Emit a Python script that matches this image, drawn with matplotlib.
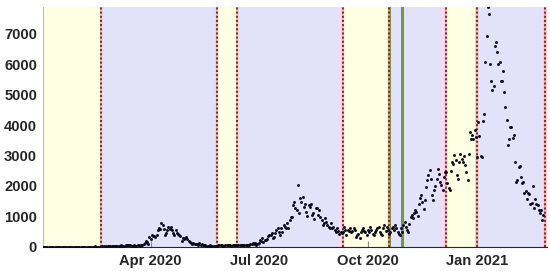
import matplotlib
matplotlib.use('Agg')
import matplotlib.pyplot as plt
import pandas as pd

# daily new cases, one value per day starting 2020-01-01
cases = [0, 0, 0, 0, 0, 0, 0,
         0, 0, 0, 0, 0, 0, 0,
         0, 1, 0, 0, 0, 0, 0,
         0, 0, 1, 1, 0, 1, 2,
         2, 1, 4, 1, 2, 0, 2,
         0, 0, 0, 3, 0, 0, 0,
         1, 0, 8, 3, 3, 2, 2,
         6, 8, 5, 10, 12, 4, 12,
         12, 20, 15, 12, 18, 14, 21,
         33, 30, 25, 59, 39, 30, 26,
         53, 57, 62, 44, 61, 34, 16,
         44, 39, 35, 43, 40, 38, 41,
         71, 96, 112, 200, 170, 88, 330,
         266, 400, 353, 367, 330, 380, 550,
         600, 576, 770, 720, 568, 400, 455,
         549, 650, 585, 650, 560, 440, 378,
         550, 440, 433, 380, 350, 200, 280,
         240, 275, 330, 260, 200, 165, 120,
         100, 110, 90, 80, 100, 70, 110,
         55, 90, 50, 60, 40, 30, 35,
         30, 55, 25, 30, 20, 15, 30,
         35, 40, 45, 50, 40, 35, 30,
         40, 45, 50, 45, 40, 35, 45,
         40, 40, 45, 50, 45, 55, 50,
         40, 45, 60, 55, 50, 45, 60,
         75, 100, 105, 90, 110, 60, 90,
         125, 220, 200, 275, 170, 210, 230,
         250, 350, 380, 390, 440, 270, 330,
         450, 550, 600, 490, 400, 600, 490,
         710, 650, 600, 770, 600, 875, 985,
         985, 1370, 1475, 1260, 1200, 2020, 1100,
         1590, 1475, 1640, 1310, 1420, 1150, 1000,
         1370, 1310, 1420, 1040, 1095, 900, 1260,
         1260, 1040, 1200, 985, 875, 700, 770,
         930, 820, 710, 655, 600, 770, 600,
         655, 550, 490, 600, 520, 430, 490,
         450, 490, 655, 560, 380, 550, 520,
         600, 480, 520, 600, 550, 330, 385,
         420, 275, 480, 550, 600, 520, 490,
         385, 550, 470, 655, 550, 430, 385,
         490, 560, 600, 655, 490, 430, 385,
         600, 710, 520, 655, 550, 430, 490,
         600, 655, 560, 710, 600, 490, 430,
         385, 600, 480, 710, 820, 655, 560,
         490, 760, 985, 1040, 930, 1100, 1200,
         1150, 1000, 1400, 1590, 1700, 1475, 1250,
         1530, 1950, 2190, 2350, 2515, 2240, 1700,
         1530, 1860, 2000, 2240, 2570, 2400, 2130,
         2020, 1860, 2300, 2460, 2460, 2100, 1915,
         1860, 2500, 2790, 2735, 3010, 2850, 2350,
         2240, 2800, 3060, 2900, 2790, 3000, 2680,
         2460, 2190, 3060, 3770, 3550, 3660, 3550,
         3830, 3610, 2950, 4100, 3630, 3000, 2950,
         4150, 4370, 6065, 6940, 7882, 7650, 6010,
         5465, 5140, 5300, 6610, 6720, 6395, 6010,
         6065, 5465, 5465, 5790, 5080, 4590, 4180,
         3335, 3550, 3935, 3935, 3590, 3660, 2790,
         2130, 2190, 2620, 2645, 2300, 2100, 2130,
         1770, 1840, 1555, 1770, 1750, 1420, 1445,
         1990, 1260, 1555, 1400, 1370, 1200, 1095,
         1200, 875, 1040]
dates = pd.date_range('2020-01-01', periods=len(cases), freq='D')

yellow_spans = [('2020-01-01', '2020-02-19'), ('2020-05-27', '2020-06-13'),
                ('2020-09-10', '2020-10-19'), ('2020-12-06', '2021-01-01')]
blue_spans = [('2020-02-19', '2020-05-27'), ('2020-06-13', '2020-09-10'),
              ('2020-10-19', '2020-12-06'), ('2021-01-01', '2021-03-01')]
pink_spans = [('2020-09-05', '2020-09-10'), ('2020-12-01', '2020-12-06'),
              ('2020-12-30', '2021-01-01'), ('2021-02-24', '2021-03-01')]
red_lines = ['2020-02-19', '2020-05-27', '2020-06-13', '2020-09-10',
             '2020-10-19', '2020-12-06', '2021-01-01', '2021-02-27']
green_lines = ['2020-10-19', '2020-10-30']
tick_dates = ['2020-04-01', '2020-07-01', '2020-10-01', '2021-01-01']
tick_labels = ['Apr 2020', 'Jul 2020', 'Oct 2020', 'Jan 2021']

plt.rcParams['font.family'] = ['Liberation Sans', 'DejaVu Sans']

fig = plt.figure(figsize=(5.5, 2.71), dpi=100)
ax = fig.add_axes([0.0776, 0.0897, 0.917, 0.884])

for s, e in yellow_spans:
    ax.axvspan(pd.Timestamp(s), pd.Timestamp(e), color='#FFFFE4', lw=0, zorder=0)
for s, e in blue_spans:
    ax.axvspan(pd.Timestamp(s), pd.Timestamp(e), color='#E2E2FA', lw=0, zorder=0)
for s, e in pink_spans:
    ax.axvspan(pd.Timestamp(s), pd.Timestamp(e), color='#F8D8F2', lw=0, zorder=0.5)

for d in green_lines:
    ax.axvline(pd.Timestamp(d), color='#6E9A4A', lw=2.2, zorder=2)
for d in red_lines:
    # pale red under the brown dots
    ax.axvline(pd.Timestamp(d), color='#EFA9A6', lw=1.6, alpha=0.7, zorder=2.5)
    ax.axvline(pd.Timestamp(d), color='#7E3422', ls=(0, (1, 1)), lw=1.5, zorder=3)

ax.scatter(dates, cases, s=4.5, c='#0B0B1A', linewidths=0, zorder=5)

ax.set_xlim(pd.Timestamp('2020-01-01'), pd.Timestamp('2021-03-01'))
ax.set_ylim(0, max(cases))
ax.set_yticks(range(0, 8000, 1000))
ax.set_xticks([pd.Timestamp(d) for d in tick_dates])
ax.set_xticklabels(tick_labels)

for lab in ax.get_xticklabels() + ax.get_yticklabels():
    lab.set_fontweight('bold')
    lab.set_fontsize(10.6)
    lab.set_color('#262626')
ax.tick_params(axis='x', direction='in', length=4, color='#888888', pad=5.5)
ax.tick_params(axis='y', length=0, pad=4)

ax.spines['top'].set_visible(False)
ax.spines['right'].set_visible(False)
ax.spines['left'].set_color('#BBBBBB')
ax.spines['left'].set_linewidth(0.8)
ax.spines['bottom'].set_color('#262626')
ax.spines['bottom'].set_linewidth(0.8)

plt.savefig('out.png', dpi=100)
